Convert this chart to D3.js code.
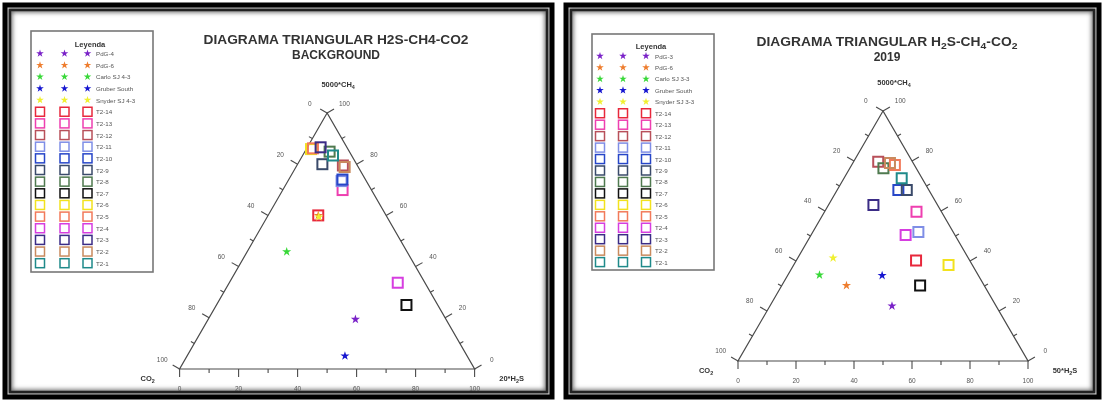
<!DOCTYPE html>
<html>
<head>
<meta charset="utf-8">
<script src="https://cdn.jsdelivr.net/npm/d3@7"></script>
<style>
  html, body { margin: 0; padding: 0; background: #fff; }
  svg { display: block; font-family: "Liberation Sans", Arial, sans-serif; will-change: transform; }
</style>
</head>
<body>
<svg id="chart" width="1104" height="402"></svg>
<script>
// ---- Series names and colours ----
const wellNames = ["T2-14", "T2-13", "T2-12", "T2-11", "T2-10", "T2-9", "T2-8",
                   "T2-7", "T2-6", "T2-5", "T2-4", "T2-3", "T2-2", "T2-1"];
const wellColors = ["#e8283c", "#ee3fb0", "#b8505a", "#7f8ee6", "#2746c8", "#3a4a6a", "#4f7a4f",
                    "#111111", "#f2e21e", "#f27a5a", "#d63ee0", "#3b2c86", "#c98a5e", "#1f8a8a"];
const gasNamesBg = ["PdG-4", "PdG-6", "Carlo SJ 4-3", "Gruber South", "Snyder SJ 4-3"];
const gasNames19 = ["PdG-3", "PdG-6", "Carlo SJ 3-3", "Gruber South", "Snyder SJ 3-3"];
const gasColors = ["#7a22c8", "#ee7d2e", "#38d838", "#1616d0", "#f0f030"];

// ---- Compositions, percent of the scaled components (5000*CH4, xx*H2S, CO2) ----
// Background campaign, wells (same order as wellNames)
const bgWellCH4 = [60.0, 69.9, 79.5, 73.4, 74.0, 80.0, 84.9, 25.0, 85.9, 86.2, 33.7, 86.6, 78.9, 83.4];
const bgWellH2S = [17.0, 20.3, 15.6, 18.2, 18.2,  8.4,  8.4, 64.4,  1.6,  2.1, 57.1,  4.5, 16.5, 10.3];
const bgWellCO2 = [23.0,  9.8,  4.9,  8.4,  7.8, 11.6,  6.7, 10.6, 12.5, 11.7,  9.2,  8.9,  4.6,  6.3];
// Background campaign, gas samples (same order as gasNamesBg)
const bgGasCH4 = [19.4, 60.0, 45.8,  5.1, 59.4];
const bgGasH2S = [49.9, 17.0, 13.4, 53.5, 17.5];
const bgGasCO2 = [30.7, 23.0, 40.8, 41.4, 23.1];
// 2019 campaign, wells
const y19WellCH4 = [40.2, 59.7, 79.7, 51.6, 68.4, 68.4, 77.1, 30.2, 38.4, 78.4, 50.4, 62.4, 79.2, 73.1];
const y19WellH2S = [41.3, 31.7,  8.5, 36.4, 21.1, 24.0, 11.6, 47.7, 53.4, 14.9, 32.6, 15.5, 12.8, 19.9];
const y19WellCO2 = [18.5,  8.6, 11.8, 12.0, 10.5,  7.6, 11.3, 22.1,  8.2,  6.7, 17.0, 22.1,  8.0,  7.0];
// 2019 campaign, gas samples
const y19GasCH4 = [22.0, 30.2, 34.4, 34.2, 41.2];
const y19GasH2S = [42.1, 22.3, 10.9, 32.6, 12.2];
const y19GasCO2 = [35.9, 47.5, 54.7, 33.2, 46.6];

// ---- Axis ticks ----
const tickValues = [0, 10, 20, 30, 40, 50, 60, 70, 80, 90, 100];
const tickLabels = ["0", "20", "40", "60", "80", "100"];

const svg = d3.select("#chart");
const defs = svg.append("defs");
defs.append("filter").attr("id", "frameGlow")
  .attr("x", "-2%").attr("y", "-2%").attr("width", "104%").attr("height", "104%")
  .append("feGaussianBlur").attr("stdDeviation", 2.2);

const panels = [
  {
    x0: 3, x1: 554, y0: 3, y1: 399,
    title1: [["DIAGRAMA TRIANGULAR H2S-CH4-CO2", false]], title2: "BACKGROUND",
    titleX: 336, titleY: 44, titleW: 265,
    left: 179.6, right: 474.6, base: 369, apex: 113,
    h2sLabel: "20",
    legend: { x: 31, y: 31, w: 122, h: 241, first: 53.5, step: 11.65, mx: [40, 64.5, 87.5], lx: 96, ty: 44, tx: 90 },
    gasNames: gasNamesBg,
    wells: { ch4: bgWellCH4, h2s: bgWellH2S, co2: bgWellCO2 },
    gas: { ch4: bgGasCH4, h2s: bgGasH2S, co2: bgGasCO2 }
  },
  {
    x0: 564, x1: 1101, y0: 3, y1: 399,
    title1: [["DIAGRAMA TRIANGULAR H", false], ["2", true], ["S-CH", false], ["4", true], ["-CO", false], ["2", true]],
    title2: "2019",
    titleX: 887, titleY: 46, titleW: 261,
    left: 738, right: 1028, base: 361, apex: 111,
    h2sLabel: "50",
    legend: { x: 592, y: 34, w: 122, h: 236, first: 56, step: 11.45, mx: [600, 623, 646], lx: 655, ty: 46, tx: 651 },
    gasNames: gasNames19,
    wells: { ch4: y19WellCH4, h2s: y19WellH2S, co2: y19WellCO2 },
    gas: { ch4: y19GasCH4, h2s: y19GasH2S, co2: y19GasCO2 }
  }
];

const star = d3.symbol().type(d3.symbolStar);

panels.forEach(p => {
  const g = svg.append("g");

  // Picture frame: soft inner shadow and black border
  g.append("rect")
    .attr("x", p.x0 + 7).attr("y", p.y0 + 7)
    .attr("width", p.x1 - p.x0 - 14).attr("height", p.y1 - p.y0 - 14)
    .attr("fill", "none").attr("stroke", "#6d6d6d").attr("stroke-width", 5)
    .attr("filter", "url(#frameGlow)");
  g.append("rect")
    .attr("x", p.x0 + 2).attr("y", p.y0 + 2)
    .attr("width", p.x1 - p.x0 - 4).attr("height", p.y1 - p.y0 - 4)
    .attr("fill", "none").attr("stroke", "#000").attr("stroke-width", 5);
  g.append("rect")
    .attr("x", p.x0 + 7).attr("y", p.y0 + 7)
    .attr("width", p.x1 - p.x0 - 14).attr("height", p.y1 - p.y0 - 14)
    .attr("fill", "none").attr("stroke", "#222").attr("stroke-width", 2.5);

  // Ternary projection built from two linear scales
  const sx = d3.scaleLinear().domain([0, 100]).range([p.left, p.right]);
  const sy = d3.scaleLinear().domain([0, 100]).range([p.base, p.apex]);
  const proj = (ch4, h2s, co2) => {
    const t = ch4 + h2s + co2;
    const a = 100 * ch4 / t, b = 100 * h2s / t;
    return [sx(b + a / 2), sy(a)];
  };

  const A = proj(100, 0, 0), L = proj(0, 0, 100), R = proj(0, 100, 0);
  g.append("path")
    .attr("d", d3.line()([A, L, R, A]) + "Z")
    .attr("fill", "none").attr("stroke", "#4a4a4a").attr("stroke-width", 1.2);

  // Three edges: bottom = H2S, right = CH4, left = CO2; ticks point outward
  const side = (() => {
    const dx = A[0] - R[0], dy = A[1] - R[1], n = Math.hypot(dx, dy);
    return [Math.abs(dy / n), -Math.abs(dx / n)];
  })();
  const edges = [
    { pos: v => proj(0, v, 100 - v), n: [0, 1], off: 19 },
    { pos: v => proj(v, 100 - v, 0), n: side, off: 20 },
    { pos: v => proj(100 - v, 0, v), n: [-side[0], side[1]], off: 20 }
  ];

  edges.forEach(e => {
    g.append("g").selectAll("line").data(tickValues).join("line")
      .attr("x1", v => e.pos(v)[0]).attr("y1", v => e.pos(v)[1])
      .attr("x2", v => e.pos(v)[0] + e.n[0] * (v % 20 === 0 ? 8 : 4))
      .attr("y2", v => e.pos(v)[1] + e.n[1] * (v % 20 === 0 ? 8 : 4))
      .attr("stroke", "#4a4a4a").attr("stroke-width", 1.1);
    g.append("g").selectAll("text").data(tickLabels).join("text")
      .attr("x", d => e.pos(+d)[0] + e.n[0] * e.off)
      .attr("y", d => e.pos(+d)[1] + e.n[1] * e.off)
      .attr("text-anchor", "middle").attr("dominant-baseline", "central")
      .attr("font-size", 6.5).attr("fill", "#555").text(d => d);
  });

  // Corner labels
  const corner = (x, y, parts, size) => {
    const t = g.append("text").attr("x", x).attr("y", y)
      .attr("text-anchor", "middle").attr("font-size", size)
      .attr("font-weight", "bold").attr("fill", "#333");
    parts.forEach(([s, sub], i) => {
      const ts = t.append("tspan").text(s);
      if (sub) ts.attr("font-size", size * 0.72).attr("dy", 2);
      else if (i > 0) ts.attr("dy", -2);
    });
  };
  corner(A[0] + 11, A[1] - 26, [["5000*CH", false], ["4", true]], 7.5);
  corner(L[0] - 32, L[1] + 12, [["CO", false], ["2", true]], 7.5);
  corner(R[0] + 37, R[1] + 12, [[p.h2sLabel + "*H", false], ["2", true], ["S", false]], 7.5);

  // Title
  const t1 = g.append("text").attr("x", p.titleX).attr("y", p.titleY)
    .attr("text-anchor", "middle").attr("font-size", 12).attr("font-weight", "bold")
    .attr("fill", "#333").attr("textLength", p.titleW).attr("lengthAdjust", "spacingAndGlyphs");
  p.title1.forEach(([s, sub], i) => {
    const ts = t1.append("tspan").text(s);
    if (sub) ts.attr("font-size", 9).attr("dy", 3);
    else if (i > 0) ts.attr("dy", -3);
  });
  g.append("text").attr("x", p.titleX).attr("y", p.titleY + 15)
    .attr("text-anchor", "middle").attr("font-size", 12).attr("font-weight", "bold")
    .attr("fill", "#333").text(p.title2);

  // Well squares
  const wellIdx = d3.range(wellNames.length);
  g.append("g").selectAll("rect").data(wellIdx).join("rect")
    .attr("x", i => proj(p.wells.ch4[i], p.wells.h2s[i], p.wells.co2[i])[0] - 5)
    .attr("y", i => proj(p.wells.ch4[i], p.wells.h2s[i], p.wells.co2[i])[1] - 5)
    .attr("width", 10).attr("height", 10)
    .attr("fill", "none").attr("stroke", i => wellColors[i]).attr("stroke-width", 2);

  // Gas sample stars
  const gasIdx = d3.range(gasColors.length);
  g.append("g").selectAll("path").data(gasIdx).join("path")
    .attr("d", star.size(26)())
    .attr("transform", i => {
      const [x, y] = proj(p.gas.ch4[i], p.gas.h2s[i], p.gas.co2[i]);
      return `translate(${x},${y})`;
    })
    .attr("fill", i => gasColors[i]);

  // Legend
  const lg = p.legend;
  g.append("rect").attr("x", lg.x).attr("y", lg.y).attr("width", lg.w).attr("height", lg.h)
    .attr("fill", "#fff").attr("stroke", "#777").attr("stroke-width", 1.6);
  g.append("text").attr("x", lg.tx).attr("y", lg.ty).attr("text-anchor", "middle")
    .attr("dominant-baseline", "central").attr("font-size", 7.5).attr("font-weight", "bold")
    .attr("fill", "#333").text("Leyenda");

  const entries = p.gasNames.map((n, i) => ({ name: n, color: gasColors[i], kind: "star" }))
    .concat(wellNames.map((n, i) => ({ name: n, color: wellColors[i], kind: "square" })));
  const rows = g.append("g").selectAll("g").data(entries).join("g")
    .attr("transform", (d, i) => `translate(0,${lg.first + i * lg.step})`);
  lg.mx.forEach(mx => {
    rows.filter(d => d.kind === "star").append("path")
      .attr("d", star.size(18)()).attr("transform", `translate(${mx},0)`)
      .attr("fill", d => d.color);
    rows.filter(d => d.kind === "square").append("rect")
      .attr("x", mx - 4.5).attr("y", -4.5).attr("width", 9).attr("height", 9)
      .attr("fill", "none").attr("stroke", d => d.color).attr("stroke-width", 1.5);
  });
  rows.append("text").attr("x", lg.lx).attr("y", 0).attr("dominant-baseline", "central")
    .attr("font-size", 6.2).attr("fill", "#555").text(d => d.name);
});
</script>
</body>
</html>
